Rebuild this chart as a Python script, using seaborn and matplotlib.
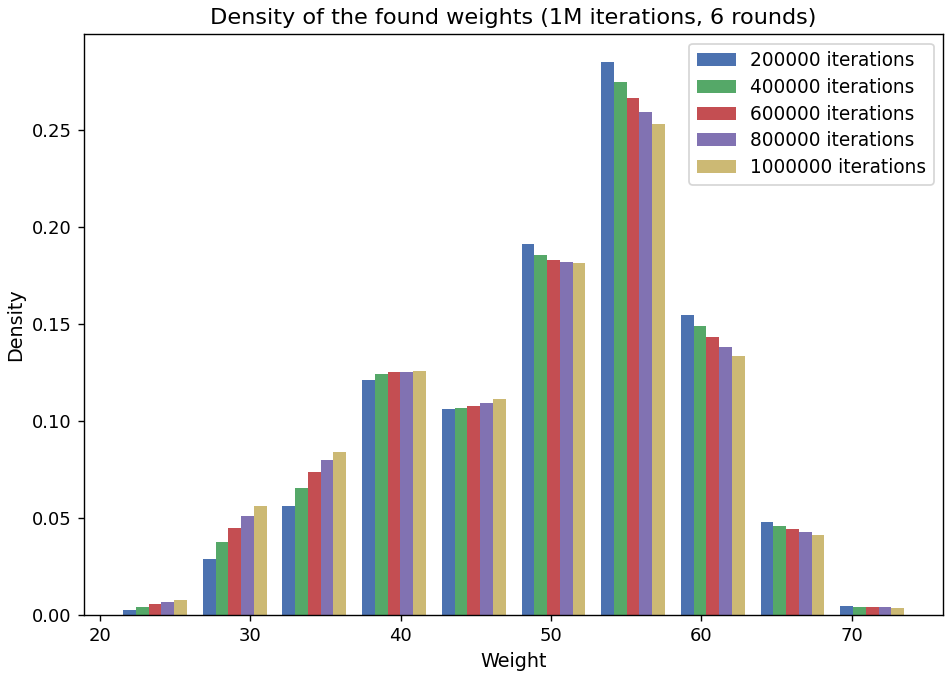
import matplotlib
matplotlib.use("Agg")
import matplotlib.pyplot as plt
import seaborn as sns
import pandas as pd

bin_centers = [23.65, 28.95, 34.25, 39.55, 44.85, 50.15, 55.45, 60.75, 66.05, 71.35]
series_labels = ["200000 iterations", "400000 iterations", "600000 iterations",
                 "800000 iterations", "1000000 iterations"]
d200k = [0.0026, 0.0289, 0.0562, 0.1211, 0.1062, 0.1912, 0.2851, 0.1546, 0.0479, 0.0046]
d400k = [0.0043, 0.0376, 0.0655, 0.1242, 0.1067, 0.1856, 0.2747, 0.1490, 0.0459, 0.0041]
d600k = [0.0057, 0.0448, 0.0737, 0.1253, 0.1077, 0.1830, 0.2665, 0.1433, 0.0443, 0.0041]
d800k = [0.0067, 0.0510, 0.0799, 0.1253, 0.1093, 0.1820, 0.2593, 0.1381, 0.0428, 0.0041]
d1m = [0.0077, 0.0562, 0.0840, 0.1258, 0.1113, 0.1814, 0.2531, 0.1335, 0.0412, 0.0036]
colors = ["#4C72B0", "#55A868", "#C44E52", "#8172B2", "#CCB974"]

rows = []
for lab, vals in zip(series_labels, [d200k, d400k, d600k, d800k, d1m]):
    for c, v in zip(bin_centers, vals):
        rows.append({"Weight": c, "Density": v, "series": lab})
df = pd.DataFrame(rows)

plt.rcParams["font.family"] = ["DejaVu Sans"]
plt.rcParams["xtick.labelsize"] = 10.4
plt.rcParams["ytick.labelsize"] = 10.4
fig = plt.figure(figsize=(7.56, 5.392), dpi=125)
ax = fig.add_axes([0.0889, 0.0875, 0.998 - 0.0889, 0.949 - 0.0875])

sns.barplot(data=df, x="Weight", y="Density", hue="series", hue_order=series_labels,
            palette=colors, saturation=1, native_scale=True, errorbar=None,
            width=0.8, ax=ax)

ax.set_title("Density of the found weights (1M iterations, 6 rounds)", fontsize=12.9)
ax.set_xlabel("Weight", fontsize=11)
ax.set_ylabel("Density", fontsize=11)
ax.set_xticks([20, 30, 40, 50, 60, 70])
ax.set_yticks([0.0, 0.05, 0.10, 0.15, 0.20, 0.25])
ax.set_yticklabels(["0.00", "0.05", "0.10", "0.15", "0.20", "0.25"])
ax.set_xlim(18.93, 76.07)
ax.set_ylim(0, 0.2993)
sns.move_legend(ax, "upper right", title=None, frameon=True, fontsize=10.7,
                labelspacing=0.42, handlelength=2.1)

fig.savefig("out.png", dpi=125)
